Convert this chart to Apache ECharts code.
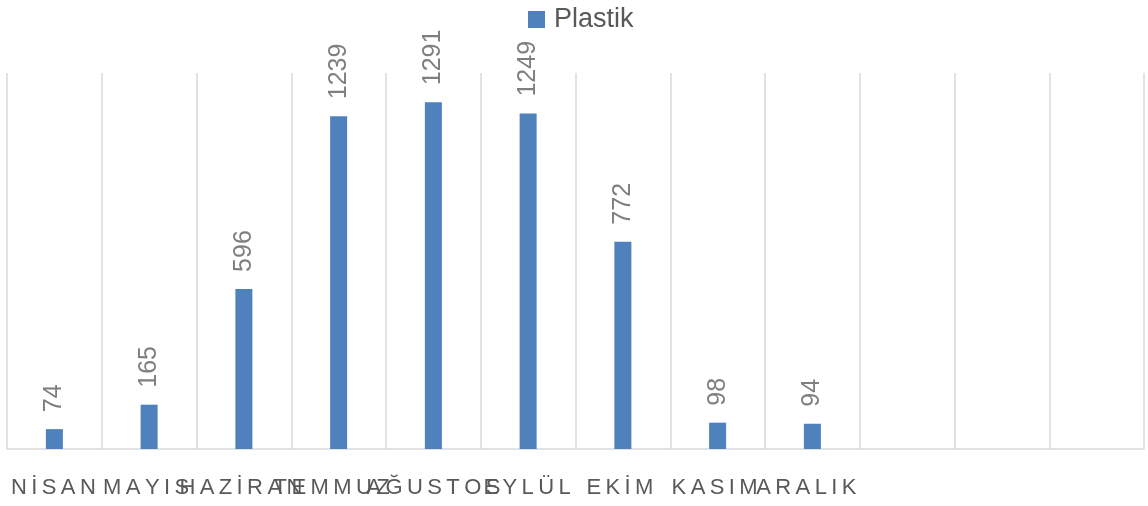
<!DOCTYPE html>
<html>
<head>
<meta charset="utf-8">
<script src="https://cdn.jsdelivr.net/npm/echarts@6/dist/echarts.min.js"></script>
<style>
html,body{margin:0;padding:0;background:#fff;}
#chart{width:1148px;height:506px;}
</style>
</head>
<body>
<div id="chart"></div>
<script>
const categories = ['NİSAN','MAYIS','HAZİRAN','TEMMUZ','AĞUSTOS','EYLÜL','EKİM','KASIM','ARALIK','','',''];
const plastik = [74,165,596,1239,1291,1249,772,98,94,null,null,null];
const seriesName = 'Plastik';

// horizontal nudge of each axis label (px), to mimic the reference's label placement
const labelNudge = [-1,-3,-3,-7,0,-1,-3,-3,-6,0,0,0];

const chart = echarts.init(document.getElementById('chart'));
const spaced = s => Array.from(s).join('\u2009');
chart.setOption({
  animation: false,
  legend: {
    left: 523, top: 1,
    itemWidth: 17, itemHeight: 17,
    icon: 'rect',
    textStyle: { fontFamily: 'Liberation Sans', fontSize: 27, color: '#595959', padding: [0,0,0,4] },
    data: [seriesName]
  },
  grid: { left: 7, right: 4, top: 73, bottom: 57 },
  xAxis: {
    type: 'category',
    data: categories.map((c, i) => {
      const n = labelNudge[i];
      return { value: c, textStyle: { padding: n >= 0 ? [0, 0, 0, 2 * n] : [0, -2 * n, 0, 0] } };
    }),
    axisLine: { lineStyle: { color: '#d9d9d9', width: 1.5 } },
    axisTick: { show: false },
    splitLine: { show: true, interval: 0, lineStyle: { color: '#d9d9d9', width: 1.5 } },
    axisLabel: {
      interval: 0, hideOverlap: false,
      margin: 28,
      fontFamily: 'Liberation Sans', fontSize: 22, color: '#595959',
      formatter: v => spaced(v)
    }
  },
  yAxis: {
    type: 'value', min: 0, max: 1400,
    show: false,
    splitLine: { show: false }
  },
  series: [{
    name: seriesName,
    type: 'bar',
    data: plastik,
    barWidth: 17,
    itemStyle: { color: '#4f81bd' },
    label: {
      show: true, position: 'top', rotate: 90,
      align: 'left', verticalAlign: 'middle', distance: 17,
      fontFamily: 'Liberation Sans', fontSize: 25, color: '#7f7f7f'
    }
  }]
});
</script>
</body>
</html>
